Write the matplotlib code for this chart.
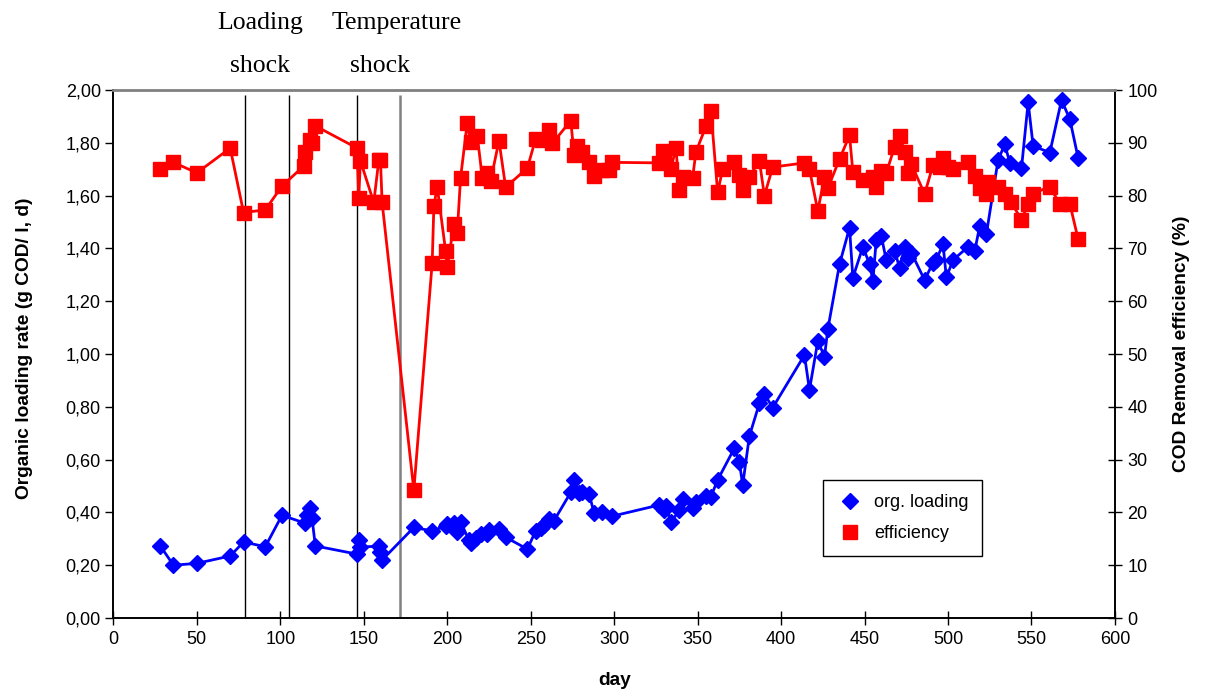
import matplotlib
matplotlib.use("Agg")
import matplotlib.pyplot as plt
from matplotlib.lines import Line2D
from matplotlib.ticker import FuncFormatter, MultipleLocator

# organic loading rate (g COD / l, d)
load_day = [28, 36, 50, 70, 78, 91, 101, 115, 116, 118, 119, 121, 146, 147, 148,
            159, 160, 161, 180, 191, 199, 200, 204, 206, 208, 213, 214, 217, 220,
            224, 225, 231, 235, 248, 253, 256, 258, 261, 264, 274, 276, 279, 281,
            285, 288, 293, 299, 327, 330, 331, 334, 339, 341, 347, 349, 355, 358,
            362, 372, 375, 377, 381, 387, 390, 395, 414, 417, 422, 426, 428, 435,
            441, 443, 449, 453, 455, 457, 460, 463, 468, 471, 474, 476, 478, 486,
            491, 493, 497, 499, 503, 512, 516, 519, 523, 530, 534, 537, 544, 548,
            551, 561, 568, 573, 578]
load = [0.274, 0.200, 0.207, 0.235, 0.288, 0.270, 0.389, 0.359, 0.390, 0.418, 0.378,
        0.273, 0.242, 0.295, 0.268, 0.273, 0.250, 0.220, 0.343, 0.330, 0.348, 0.356,
        0.359, 0.325, 0.365, 0.295, 0.283, 0.302, 0.318, 0.317, 0.333, 0.337, 0.306,
        0.261, 0.330, 0.340, 0.352, 0.375, 0.369, 0.476, 0.523, 0.472, 0.478, 0.470,
        0.397, 0.403, 0.386, 0.428, 0.409, 0.424, 0.362, 0.409, 0.450, 0.418, 0.440,
        0.463, 0.460, 0.523, 0.643, 0.590, 0.504, 0.689, 0.813, 0.848, 0.797, 0.996,
        0.864, 1.049, 0.990, 1.094, 1.340, 1.478, 1.289, 1.406, 1.341, 1.278, 1.432,
        1.448, 1.356, 1.390, 1.327, 1.404, 1.362, 1.384, 1.280, 1.346, 1.356, 1.417,
        1.290, 1.356, 1.406, 1.390, 1.485, 1.455, 1.735, 1.794, 1.725, 1.703, 1.953,
        1.788, 1.763, 1.962, 1.889, 1.741]

# COD removal efficiency (%)
eff_day = [28, 36, 50, 70, 78, 91, 101, 114, 115, 118, 119, 121, 146, 147, 148, 156,
           159, 160, 161, 180, 191, 192, 194, 199, 200, 204, 206, 208, 212, 214, 218,
           221, 224, 226, 231, 235, 248, 253, 257, 261, 263, 274, 276, 278, 281, 285,
           288, 293, 297, 299, 327, 329, 330, 334, 337, 339, 341, 347, 349, 355, 358,
           362, 365, 372, 375, 377, 381, 387, 390, 395, 414, 417, 422, 426, 428, 435,
           441, 443, 449, 455, 457, 460, 463, 468, 471, 474, 476, 478, 486, 491, 495,
           497, 500, 503, 512, 516, 519, 523, 524, 530, 534, 538, 544, 548, 551, 561,
           567, 573, 578]
eff = [85.0, 86.3, 84.3, 89.0, 76.8, 77.3, 81.8, 85.6, 88.2, 90.5, 89.9, 93.2, 89.0,
       79.6, 86.6, 78.7, 86.7, 86.7, 78.7, 24.2, 67.3, 78.0, 81.7, 69.6, 66.5, 74.6,
       73.0, 83.4, 93.8, 90.1, 91.3, 83.4, 84.3, 82.8, 90.4, 81.6, 85.2, 90.8, 90.5,
       92.4, 89.9, 94.2, 87.7, 89.4, 88.3, 86.4, 83.8, 84.8, 84.8, 86.3, 86.2, 88.4,
       86.7, 85.0, 89.1, 81.1, 83.6, 83.4, 88.3, 93.1, 96.0, 80.6, 85.0, 86.3, 83.9,
       81.1, 83.6, 86.6, 80.0, 85.4, 86.2, 85.0, 77.1, 83.6, 81.4, 86.9, 91.4, 84.5,
       83.0, 83.6, 81.7, 84.7, 84.2, 89.3, 91.3, 88.3, 84.2, 86.0, 80.3, 85.8, 85.4,
       87.1, 85.5, 85.0, 86.4, 83.7, 81.4, 80.4, 82.6, 81.7, 80.4, 78.7, 75.4, 78.4,
       80.4, 81.7, 78.4, 78.4, 71.7]

# start / end of the loading shock and the temperature shock
shock_days = [79, 105, 146, 172]
shock_colors = ["black", "black", "black", "#808080"]
shock_widths = [1.0, 1.0, 1.0, 1.8]

blue = "#0000ff"
red = "#ff0000"
sans = "Liberation Sans"
serif = "Liberation Serif"
tick_size = 13
title_size = 13.8

fig = plt.figure(figsize=(12.06, 6.93), dpi=100)
ax = fig.add_axes([0.094, 0.1082, 0.8305, 0.7619])
ax2 = ax.twinx()

ax.plot(load_day, load, color=blue, lw=2, marker="D", ms=8.5, mec=blue, mfc=blue,
        zorder=3)
ax2.plot(eff_day, eff, color=red, lw=2, marker="s", ms=9.5, mec=red, mfc=red,
         zorder=3)

for d, c, w in zip(shock_days, shock_colors, shock_widths):
    ax.vlines(d, 0.005, 1.982, color=c, lw=w, zorder=2)

ax.set_xlim(0, 600)
ax.set_ylim(0, 2)
ax2.set_ylim(0, 100)
ax.xaxis.set_major_locator(MultipleLocator(50))
ax.yaxis.set_major_locator(MultipleLocator(0.2))
ax2.yaxis.set_major_locator(MultipleLocator(10))
ax.yaxis.set_major_formatter(FuncFormatter(lambda v, p: f"{v:.2f}".replace(".", ",")))

for a in (ax, ax2):
    for lbl in a.get_xticklabels() + a.get_yticklabels():
        lbl.set_fontfamily(sans)
        lbl.set_fontsize(tick_size)
ax.tick_params(axis="x", direction="inout", length=10, width=1, pad=4)
ax.tick_params(axis="y", direction="out", length=6, width=1, pad=3)
ax2.tick_params(axis="y", direction="inout", length=10, width=1, pad=4)

ax2.spines["top"].set_color("#808080")
ax2.spines["top"].set_linewidth(2)
ax.spines["top"].set_visible(False)
for a in (ax, ax2):
    for s in ("left", "bottom", "right"):
        a.spines[s].set_linewidth(1.2)

ax.set_xlabel("day", fontfamily=sans, fontweight="bold", fontsize=title_size)
ax.set_ylabel("Organic loading rate (g COD/ l, d)", fontfamily=sans,
              fontweight="bold", fontsize=title_size)
ax2.set_ylabel("COD Removal efficiency (%)", fontfamily=sans, fontweight="bold",
               fontsize=title_size)
ax.xaxis.set_label_coords(0.5, -0.102)
ax.yaxis.set_label_coords(-0.080, 0.51)
ax2.yaxis.set_label_coords(1.058, 0.52)

handles = [Line2D([], [], ls="none", marker="D", ms=8.5, color=blue),
           Line2D([], [], ls="none", marker="s", ms=9.5, color=red)]
leg = ax2.legend(handles, ["org. loading", "efficiency"], loc="center",
                 bbox_to_anchor=(0.788, 0.189), frameon=True, fancybox=False,
                 edgecolor="black", framealpha=1, borderpad=0.75, labelspacing=0.8,
                 handlelength=1.5, handletextpad=0.6, borderaxespad=0,
                 prop={"family": sans, "size": tick_size})
leg.get_frame().set_linewidth(1.0)

# shock annotations above the plot
fig.text(260 / 1206, 1 - 28.5 / 693, "Loading", family=serif, fontsize=18.5,
         ha="center", va="baseline")
fig.text(260 / 1206, 1 - 72 / 693, "shock", family=serif, fontsize=18.5,
         ha="center", va="baseline")
fig.text(397 / 1206, 1 - 28.5 / 693, "Temperature", family=serif, fontsize=18.5,
         ha="center", va="baseline")
fig.text(380 / 1206, 1 - 72 / 693, "shock", family=serif, fontsize=18.5,
         ha="center", va="baseline")

fig.savefig("out.png", dpi=100)
